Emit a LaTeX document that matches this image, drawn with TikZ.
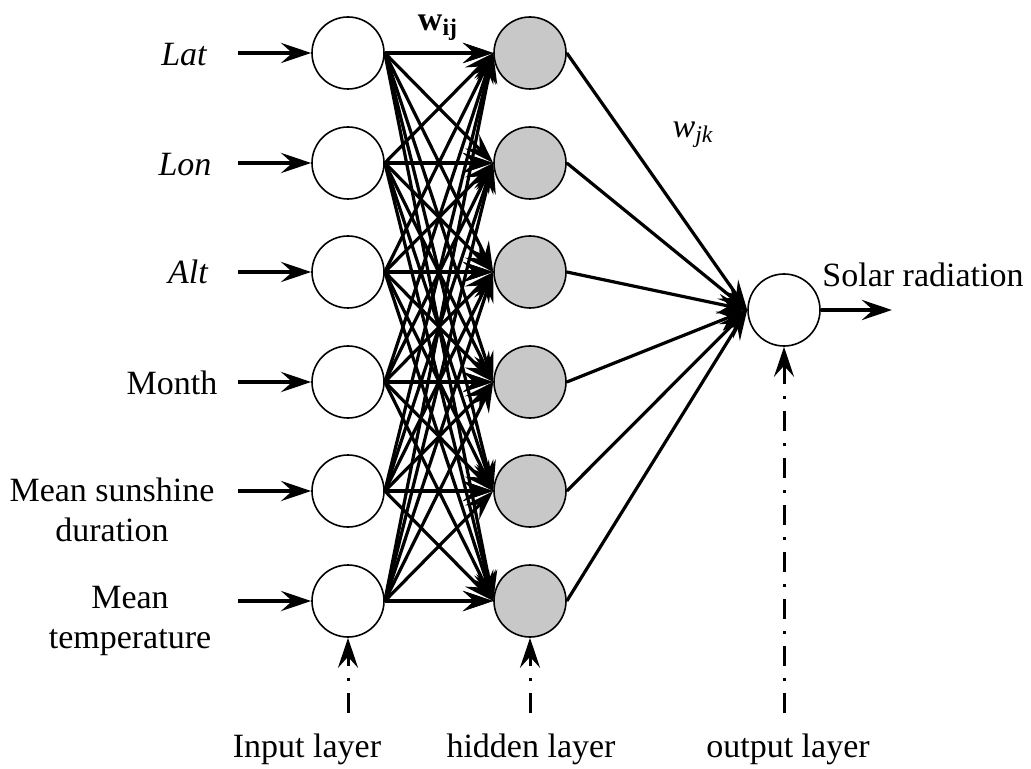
\documentclass[tikz,border=0pt]{standalone}
\usepackage{fontspec}
\setmainfont{Liberation Serif}
\usetikzlibrary{arrows.meta}
\definecolor{hidgray}{RGB}{200,200,200}
\tikzset{
  neuron/.style={circle, draw, line width=0.8pt, minimum size=36pt, inner sep=0pt, fill=white},
  hidneuron/.style={neuron, fill=hidgray},
  arrowtip/.style={-{Stealth[length=15pt,width=10pt,inset=5.5pt]}},
  wline/.style={arrowtip, line width=1.6pt},
  feed/.style={arrowtip, line width=2.4pt},
  layerline/.style={arrowtip, line width=1.5pt, dash pattern=on 10pt off 6pt on 1.5pt off 6pt},
  lbl/.style={font=\fontsize{17}{20}\selectfont, align=center},
  itlbl/.style={font=\fontsize{17}{20}\selectfont\itshape, align=center}
}
\begin{document}
\begin{tikzpicture}[x=0.5pt, y=-0.5pt]
    \useasboundingbox (0,0) rectangle (1031,769);

    \def\xin{348}
    \def\xhid{530}

    % neurons
    \foreach \i/\y in {1/53,2/163,3/272,4/382,5/491,6/601}{
        \node[neuron] (in\i) at (\xin,\y) {};
        \node[hidneuron] (hid\i) at (\xhid,\y) {};
        \coordinate (src\i) at (238,\y);
    }
    \node[neuron] (out) at (784,310) {};

    % weights
    \foreach \i in {1,...,6}
        \foreach \j in {1,...,6}
            \draw[wline] (in\i.east) -- (hid\j.west);
    \foreach \i in {1,...,6}{
        \draw[feed] (src\i) -- (in\i.west);
        \draw[feed] (in\i.east) -- (hid\i.west);
        \draw[wline] (hid\i.east) -- (out.west);
    }

    \node[lbl] (wij) at (438,28) {\textbf{w\textsubscript{ij}}};
    \node[lbl] (wjk) at (693,135) {\textit{w\textsubscript{jk}}};

    % inputs
    \node[itlbl] (lat) at (184,55) {Lat};
    \node[itlbl] (lon) at (185,165) {Lon};
    \node[itlbl] (alt) at (188,272) {Alt};
    \node[lbl] (month) at (172,383) {Month};
    \node[lbl] (sun) at (112,510) {Mean sunshine\\duration};
    \node[lbl] (temp) at (130,621) {Mean\\temperature};

    % output
    \coordinate (outend) at (892,310);
    \draw[feed] (out.east) -- (outend);
    \node[lbl] (solar) at (923,275) {Solar radiation};

    % layers
    \coordinate (inbase) at (\xin,713);
    \coordinate (hidbase) at (\xhid,713);
    \coordinate (outbase) at (784,713);
    \draw[layerline] (inbase) -- (in6.south);
    \draw[layerline] (hidbase) -- (hid6.south);
    \draw[layerline] (outbase) -- (out.south);

    \node[lbl, anchor=base] (inlayer) at (307,757) {Input layer};
    \node[lbl, anchor=base] (hidlayer) at (531,757) {hidden layer};
    \node[lbl, anchor=base] (outlayer) at (788,757) {output layer};

\end{tikzpicture}
\end{document}
